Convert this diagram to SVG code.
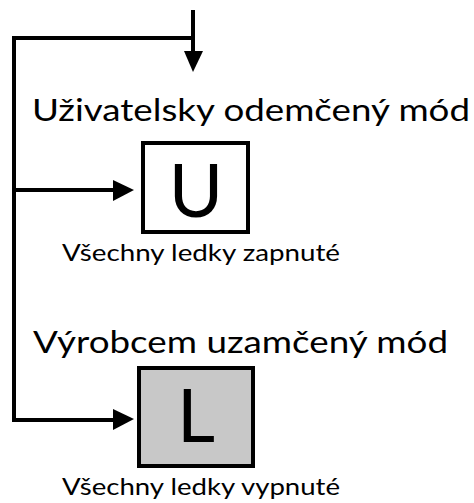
<svg xmlns="http://www.w3.org/2000/svg" width="474" height="503" viewBox="0 0 474 503">
<style>
.ln{fill:none;stroke:#000;stroke-width:4}
.box{stroke:#000;stroke-width:4}
.t{font-family:Lato,"Noto Sans","DejaVu Sans",sans-serif;fill:#000;font-weight:400}
.big{font-size:31px}
.small{font-size:23px}
.letter{font-size:74px;text-anchor:middle}
</style>
<g id="connectors">
<path class="ln" d="M193,10 V54"/>
<polygon points="184,51 203,51 193,72" fill="#000"/>
<path class="ln" d="M193,38 H14 V420 H116"/>
<polygon points="113,409 113,430 134,419" fill="#000"/>
<path class="ln" d="M14,190 H116"/>
<polygon points="113,180 113,201 134,190" fill="#000"/>
</g>
<g id="label-top">
<text class="t big" x="32" y="121" textLength="438" lengthAdjust="spacingAndGlyphs">Uživatelsky odemčený mód</text>
</g>
<g id="node-U">
<rect class="box" x="143" y="143" width="105" height="89" fill="#fff"/>
<text class="t letter" x="196" y="217">U</text>
</g>
<g id="label-U">
<text class="t small" x="62" y="261" textLength="278" lengthAdjust="spacingAndGlyphs">Všechny ledky zapnuté</text>
</g>
<g id="label-mid">
<text class="t big" x="33" y="353" textLength="415" lengthAdjust="spacingAndGlyphs">Výrobcem uzamčený mód</text>
</g>
<g id="node-L">
<rect class="box" x="139" y="368" width="114" height="98" fill="#c8c8c8"/>
<text class="t letter" x="196" y="442">L</text>
</g>
<g id="label-L">
<text class="t small" x="62" y="495" textLength="278" lengthAdjust="spacingAndGlyphs">Všechny ledky vypnuté</text>
</g>
</svg>
